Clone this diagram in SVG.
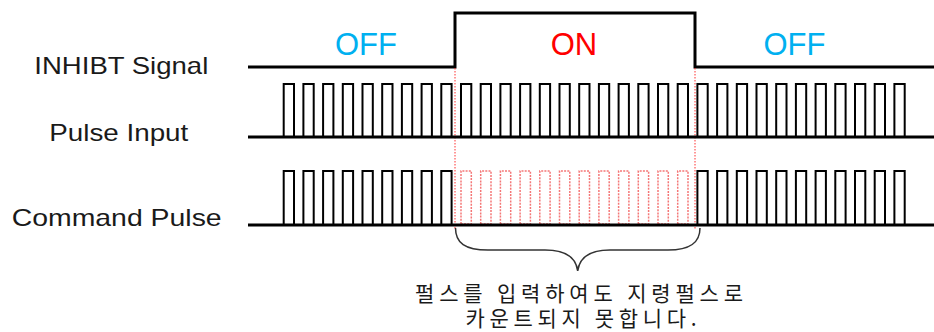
<svg xmlns="http://www.w3.org/2000/svg" width="934" height="332" viewBox="0 0 934 332">
<style>
.lbl{font-family:"Liberation Sans",Arial,sans-serif;font-size:24px;fill:#1a1a1a}
.st{font-family:"Liberation Sans",Arial,sans-serif;font-size:31px;text-anchor:middle}
.off{fill:#00b0f0}
.on{fill:#ff0000}
.kr{font-family:"Noto Sans CJK KR","Noto Sans",sans-serif;font-size:21px;fill:#1a1a1a;text-anchor:middle}
.base{stroke:#000;stroke-width:3;fill:none}
.pul{stroke:#000;stroke-width:2;fill:none;stroke-linejoin:miter}
.rp{stroke:#f04848;stroke-width:1.5;fill:none;stroke-dasharray:2 1.2;opacity:0.75}
.rv{stroke:#ff3030;stroke-width:1;stroke-dasharray:1.5 1.5;fill:none}
.brace{stroke:#333;stroke-width:1.5;fill:none}
</style>
<rect width="934" height="332" fill="#fff"/>
<g id="labels">
<text class="lbl" x="34.3" y="73.5" textLength="174" lengthAdjust="spacingAndGlyphs">INHIBT Signal</text>
<text class="lbl" x="49.3" y="141" textLength="139" lengthAdjust="spacingAndGlyphs">Pulse Input</text>
<text class="lbl" x="11.7" y="225.5" textLength="210" lengthAdjust="spacingAndGlyphs">Command Pulse</text>
</g>
<g id="state-labels">
<text class="st off" x="366" y="55">OFF</text>
<text class="st on" x="574" y="55">ON</text>
<text class="st off" x="794.5" y="55">OFF</text>
</g>
<g id="inhibit-signal">
<path class="base" d="M248 67H455V13H695V67H934"/>
</g>
<g id="guides">
<path class="rv" d="M455 68V229M695 68V229"/>
</g>
<g id="pulse-input">
<path class="base" d="M248 137H934"/>
<path class="pul" d="M283.7 137v-53h10.3v53m9.4 0v-53h10.3v53m9.4 0v-53h10.3v53m9.4 0v-53h10.3v53m9.4 0v-53h10.3v53m9.4 0v-53h10.3v53m9.4 0v-53h10.3v53m9.4 0v-53h10.3v53m9.4 0v-53h10.3v53m9.4 0v-53h10.3v53m9.4 0v-53h10.3v53m9.4 0v-53h10.3v53m9.4 0v-53h10.3v53m9.4 0v-53h10.3v53m9.4 0v-53h10.3v53m9.4 0v-53h10.3v53m9.4 0v-53h10.3v53m9.4 0v-53h10.3v53m9.4 0v-53h10.3v53m9.4 0v-53h10.3v53m9.4 0v-53h10.3v53m9.4 0v-53h10.3v53m9.4 0v-53h10.3v53m9.4 0v-53h10.3v53m9.4 0v-53h10.3v53m9.4 0v-53h10.3v53m9.4 0v-53h10.3v53m9.4 0v-53h10.3v53m9.4 0v-53h10.3v53m9.4 0v-53h10.3v53m9.4 0v-53h10.3v53m9.4 0v-53h10.3v53"/>
</g>
<g id="command-pulse">
<path class="rp" d="M461 224v-53h10.3v53zm19.7 0v-53h10.3v53zm19.7 0v-53h10.3v53zm19.7 0v-53h10.3v53zm19.7 0v-53h10.3v53zm19.7 0v-53h10.3v53zm19.7 0v-53h10.3v53zm19.7 0v-53h10.3v53zm19.7 0v-53h10.3v53zm19.7 0v-53h10.3v53zm19.7 0v-53h10.3v53zm19.7 0v-53h10.3v53z"/>
<path class="base" d="M248 225H934"/>
<path class="pul" d="M283.7 225v-54h10.3v54m9.4 0v-54h10.3v54m9.4 0v-54h10.3v54m9.4 0v-54h10.3v54m9.4 0v-54h10.3v54m9.4 0v-54h10.3v54m9.4 0v-54h10.3v54m9.4 0v-54h10.3v54m9.4 0v-54h10.3v54"/>
<path class="pul" d="M697.4 225v-54h10.3v54m9.4 0v-54h10.3v54m9.4 0v-54h10.3v54m9.4 0v-54h10.3v54m9.4 0v-54h10.3v54m9.4 0v-54h10.3v54m9.4 0v-54h10.3v54m9.4 0v-54h10.3v54m9.4 0v-54h10.3v54m9.4 0v-54h10.3v54m9.4 0v-54h10.3v54"/>
</g>
<g id="connectors">
<path class="brace" d="M455.5 228C455.5 243 465 250 488 250H545C564 250 576 257 577.7 271C579.5 257 591 250 610 250H668C690 250 700 243 700 228"/>
</g>
<g id="note">
<text class="kr"><tspan x="579" y="300.5" textLength="328" lengthAdjust="spacing">펄스를 입력하여도 지령펄스로</tspan><tspan x="581" y="325.5" textLength="231" lengthAdjust="spacing">카운트되지 못합니다.</tspan></text>
</g>
</svg>
